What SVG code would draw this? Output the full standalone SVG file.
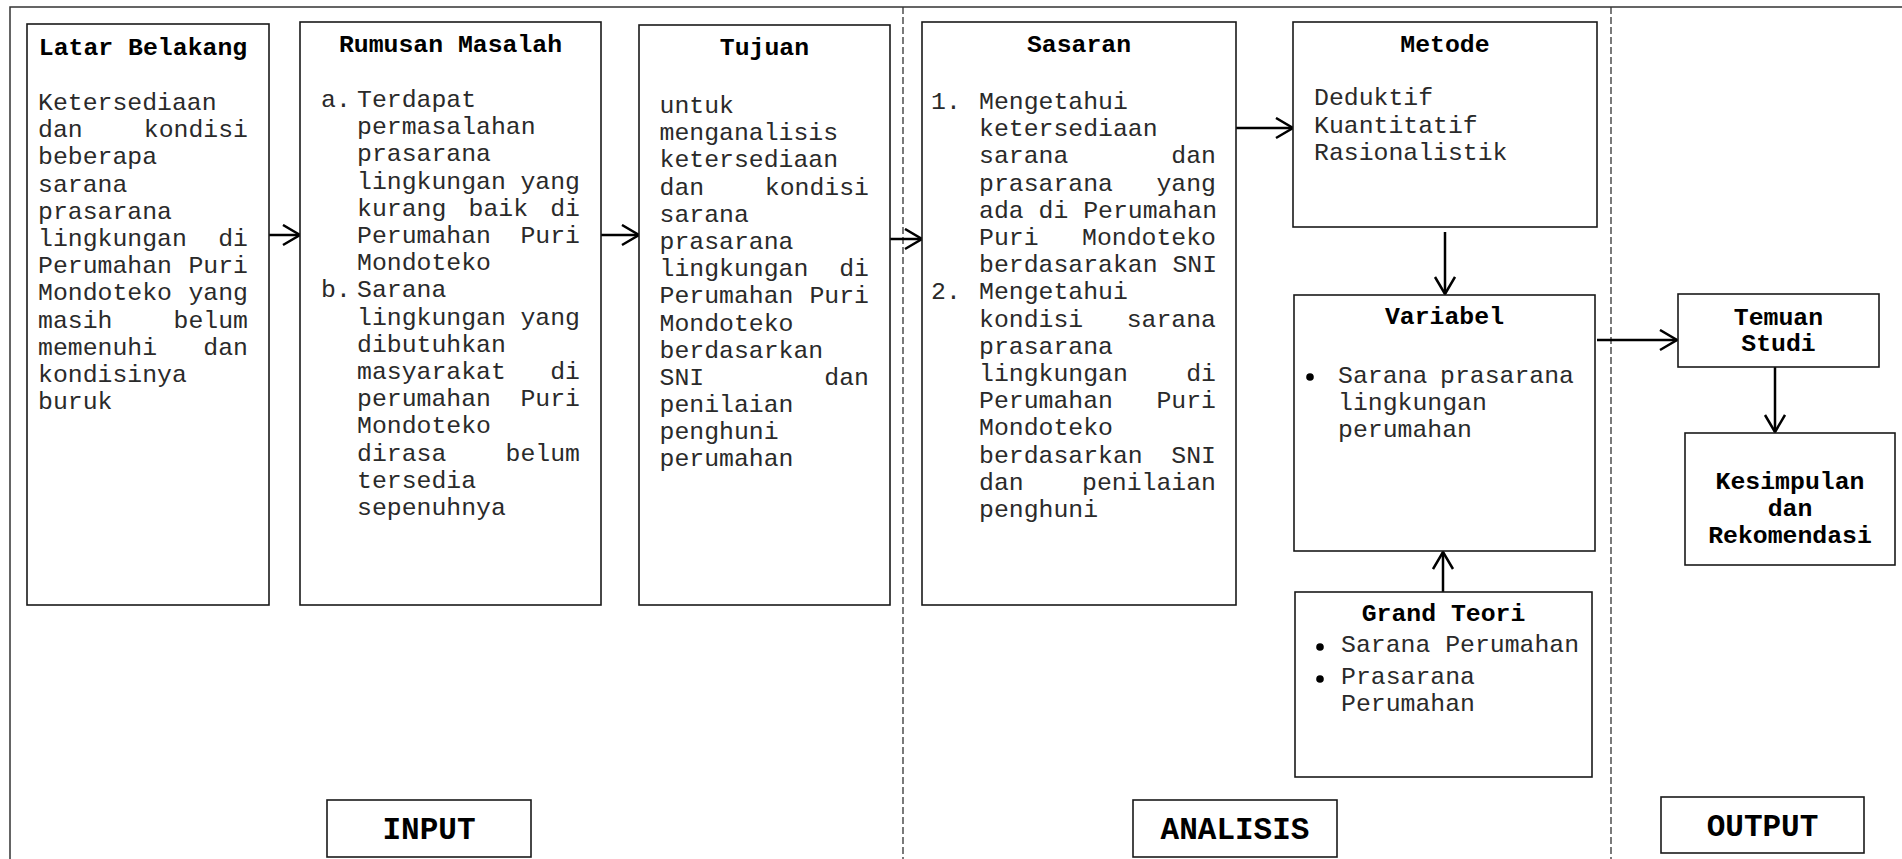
<svg xmlns="http://www.w3.org/2000/svg" width="1902" height="859" viewBox="0 0 1902 859">
<style>
.box{fill:#fff;stroke:#1a1a1a;stroke-width:1.6}
.t{font-family:"Liberation Mono","Courier New",monospace;font-size:24.8px;fill:#2a2a2a}
.h{font-family:"Liberation Mono","Courier New",monospace;font-size:24.8px;font-weight:bold;fill:#000;text-anchor:middle}
.lab{font-family:"Liberation Mono","Courier New",monospace;font-size:31px;font-weight:bold;fill:#000;text-anchor:middle}
.e{text-anchor:end}
.frame{fill:none;stroke:#333;stroke-width:1.5}
.dash{fill:none;stroke:#333;stroke-width:1.3;stroke-dasharray:7 3}
.arr{fill:none;stroke:#000;stroke-width:2.5;marker-end:url(#ah)}
.dot{fill:#000}
</style>
<defs>
<marker id="ah" markerUnits="userSpaceOnUse" markerWidth="24" markerHeight="26" refX="19" refY="11" orient="auto">
<path d="M2,1 L19,11 L2,21" fill="none" stroke="#000" stroke-width="2.5"/>
</marker>
</defs>
<rect width="1902" height="859" fill="#fff"/>
<g id="frame">
<path class="frame" d="M10,859 V7 H1902"/>
<line class="dash" x1="903" y1="7" x2="903" y2="859"/>
<line class="dash" x1="1611" y1="7" x2="1611" y2="859"/>
</g>
<g id="connectors">
<line class="arr" x1="269" y1="235" x2="300" y2="235"/>
<line class="arr" x1="601" y1="235" x2="639" y2="235"/>
<line class="arr" x1="890" y1="239" x2="922" y2="239"/>
<line class="arr" x1="1236" y1="128" x2="1293" y2="128"/>
<line class="arr" x1="1445" y1="232" x2="1445" y2="294"/>
<line class="arr" x1="1443" y1="592" x2="1443" y2="552"/>
<line class="arr" x1="1597" y1="340" x2="1677" y2="340"/>
<line class="arr" x1="1775" y1="367" x2="1775" y2="432"/>
</g>
<g id="latar">
<rect class="box" x="27" y="24" width="242" height="581"/>
<text class="h" x="143" y="55">Latar Belakang</text>
<text class="t" x="38" y="110">Ketersediaan</text>
<text class="t" x="38" y="137">dan</text><text class="t e" x="248" y="137">kondisi</text>
<text class="t" x="38" y="164">beberapa</text>
<text class="t" x="38" y="192">sarana</text>
<text class="t" x="38" y="219">prasarana</text>
<text class="t" x="38" y="246">lingkungan</text><text class="t e" x="248" y="246">di</text>
<text class="t" x="38" y="273">Perumahan</text><text class="t e" x="248" y="273">Puri</text>
<text class="t" x="38" y="300">Mondoteko</text><text class="t e" x="248" y="300">yang</text>
<text class="t" x="38" y="328">masih</text><text class="t e" x="248" y="328">belum</text>
<text class="t" x="38" y="355">memenuhi</text><text class="t e" x="248" y="355">dan</text>
<text class="t" x="38" y="382">kondisinya</text>
<text class="t" x="38" y="409">buruk</text>
</g>
<g id="rumusan">
<rect class="box" x="300" y="22" width="301" height="583"/>
<text class="h" x="450.5" y="52">Rumusan Masalah</text>
<text class="t" x="321" y="107">a.</text><text class="t" x="357" y="107">Terdapat</text>
<text class="t" x="357" y="134">permasalahan</text>
<text class="t" x="357" y="161">prasarana</text>
<text class="t" x="357" y="189">lingkungan</text><text class="t e" x="580" y="189">yang</text>
<text class="t" x="357" y="216">kurang</text><text class="t" x="468.5" y="216">baik</text><text class="t e" x="580" y="216">di</text>
<text class="t" x="357" y="243">Perumahan</text><text class="t e" x="580" y="243">Puri</text>
<text class="t" x="357" y="270">Mondoteko</text>
<text class="t" x="321" y="297">b.</text><text class="t" x="357" y="297">Sarana</text>
<text class="t" x="357" y="325">lingkungan</text><text class="t e" x="580" y="325">yang</text>
<text class="t" x="357" y="352">dibutuhkan</text>
<text class="t" x="357" y="379">masyarakat</text><text class="t e" x="580" y="379">di</text>
<text class="t" x="357" y="406">perumahan</text><text class="t e" x="580" y="406">Puri</text>
<text class="t" x="357" y="433">Mondoteko</text>
<text class="t" x="357" y="461">dirasa</text><text class="t e" x="580" y="461">belum</text>
<text class="t" x="357" y="488">tersedia</text>
<text class="t" x="357" y="515">sepenuhnya</text>
</g>
<g id="tujuan">
<rect class="box" x="639" y="25" width="251" height="580"/>
<text class="h" x="764.5" y="55">Tujuan</text>
<text class="t" x="659.5" y="113">untuk</text>
<text class="t" x="659.5" y="140">menganalisis</text>
<text class="t" x="659.5" y="167">ketersediaan</text>
<text class="t" x="659.5" y="195">dan</text><text class="t e" x="869" y="195">kondisi</text>
<text class="t" x="659.5" y="222">sarana</text>
<text class="t" x="659.5" y="249">prasarana</text>
<text class="t" x="659.5" y="276">lingkungan</text><text class="t e" x="869" y="276">di</text>
<text class="t" x="659.5" y="303">Perumahan</text><text class="t e" x="869" y="303">Puri</text>
<text class="t" x="659.5" y="331">Mondoteko</text>
<text class="t" x="659.5" y="358">berdasarkan</text>
<text class="t" x="659.5" y="385">SNI</text><text class="t e" x="869" y="385">dan</text>
<text class="t" x="659.5" y="412">penilaian</text>
<text class="t" x="659.5" y="439">penghuni</text>
<text class="t" x="659.5" y="466">perumahan</text>
</g>
<g id="sasaran">
<rect class="box" x="922" y="22" width="314" height="583"/>
<text class="h" x="1079" y="52">Sasaran</text>
<text class="t" x="931" y="109">1.</text><text class="t" x="979" y="109">Mengetahui</text>
<text class="t" x="979" y="136">ketersediaan</text>
<text class="t" x="979" y="163">sarana</text><text class="t e" x="1216" y="163">dan</text>
<text class="t" x="979" y="191">prasarana</text><text class="t e" x="1216" y="191">yang</text>
<text class="t" x="979" y="218">ada di Perumahan</text>
<text class="t" x="979" y="245">Puri</text><text class="t e" x="1216" y="245">Mondoteko</text>
<text class="t" x="979" y="272">berdasarakan SNI</text>
<text class="t" x="931" y="299">2.</text><text class="t" x="979" y="299">Mengetahui</text>
<text class="t" x="979" y="327">kondisi</text><text class="t e" x="1216" y="327">sarana</text>
<text class="t" x="979" y="354">prasarana</text>
<text class="t" x="979" y="381">lingkungan</text><text class="t e" x="1216" y="381">di</text>
<text class="t" x="979" y="408">Perumahan</text><text class="t e" x="1216" y="408">Puri</text>
<text class="t" x="979" y="435">Mondoteko</text>
<text class="t" x="979" y="463">berdasarkan</text><text class="t e" x="1216" y="463">SNI</text>
<text class="t" x="979" y="490">dan</text><text class="t e" x="1216" y="490">penilaian</text>
<text class="t" x="979" y="517">penghuni</text>
</g>
<g id="metode">
<rect class="box" x="1293" y="22" width="304" height="205"/>
<text class="h" x="1445" y="52">Metode</text>
<text class="t" x="1314" y="105">Deduktif</text>
<text class="t" x="1314" y="132.5">Kuantitatif</text>
<text class="t" x="1314" y="160">Rasionalistik</text>
</g>
<g id="variabel">
<rect class="box" x="1294" y="295" width="301" height="256"/>
<text class="h" x="1444.5" y="324">Variabel</text>
<circle class="dot" cx="1310" cy="377" r="3.8"/>
<text class="t" x="1338" y="383">Sarana</text><text class="t e" x="1574" y="383">prasarana</text>
<text class="t" x="1338" y="410">lingkungan</text>
<text class="t" x="1338" y="437">perumahan</text>
</g>
<g id="grand-teori">
<rect class="box" x="1295" y="592" width="297" height="185"/>
<text class="h" x="1443.5" y="621">Grand Teori</text>
<circle class="dot" cx="1320" cy="647" r="3.8"/>
<text class="t" x="1341" y="652">Sarana Perumahan</text>
<circle class="dot" cx="1320" cy="679" r="3.8"/>
<text class="t" x="1341" y="684">Prasarana</text>
<text class="t" x="1341" y="711">Perumahan</text>
</g>
<g id="temuan">
<rect class="box" x="1678" y="294" width="201" height="73"/>
<text class="h" x="1778.5" y="325">Temuan</text>
<text class="h" x="1778.5" y="351">Studi</text>
</g>
<g id="kesimpulan">
<rect class="box" x="1685" y="433" width="210" height="132"/>
<text class="h" x="1790" y="489">Kesimpulan</text>
<text class="h" x="1790" y="516">dan</text>
<text class="h" x="1790" y="543">Rekomendasi</text>
</g>
<g id="input">
<rect class="box" x="327" y="800" width="204" height="57"/>
<text class="lab" x="429" y="839">INPUT</text>
</g>
<g id="analisis">
<rect class="box" x="1133" y="800" width="204" height="57"/>
<text class="lab" x="1235" y="839">ANALISIS</text>
</g>
<g id="output">
<rect class="box" x="1661" y="797" width="203" height="56"/>
<text class="lab" x="1762.5" y="836">OUTPUT</text>
</g>
</svg>
